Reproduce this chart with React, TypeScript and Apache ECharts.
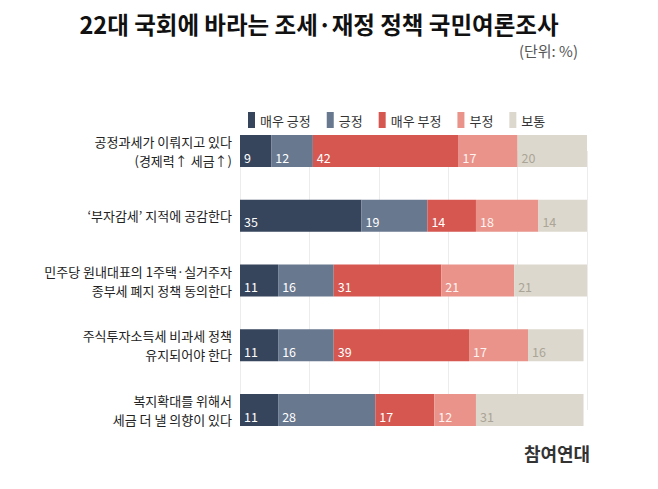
import React, { useEffect, useRef } from "react";
import * as echarts from "echarts";

const categories = [
  "공정과세가 이뤄지고 있다\n(경제력↑ 세금↑)",
  "‘부자감세’ 지적에 공감한다",
  "민주당 원내대표의 1주택·실거주자\n종부세 폐지 정책 동의한다",
  "주식투자소득세 비과세 정책\n유지되어야 한다",
  "복지확대를 위해서\n세금 더 낼 의향이 있다",
];
const seriesNames = ["매우 긍정", "긍정", "매우 부정", "부정", "보통"];
const veryPositive = [9, 35, 11, 11, 11];
const positive = [12, 19, 16, 16, 28];
const veryNegative = [42, 14, 31, 39, 17];
const negative = [17, 18, 21, 17, 12];
const neutral = [20, 14, 21, 16, 31];
const xTicks = [0, 20, 40, 60, 80, 100];

const seriesData = [veryPositive, positive, veryNegative, negative, neutral];
const colors = ["#36455c", "#68788f", "#d65650", "#e9938b", "#ddd8cd"];
const labelColors = ["#ffffff", "#ffffff", "#ffffff", "#fff3f1", "#aaa597"];
const FONT = "'Noto Sans CJK KR', 'Noto Sans', sans-serif";

export default function App() {
  const ref = useRef<HTMLDivElement>(null);
  useEffect(() => {
    document.body.style.margin = "0";
    if (!ref.current) return;
    const chart = echarts.init(ref.current, undefined, { renderer: "svg" });
    chart.setOption({
      animation: false,
      backgroundColor: "#ffffff",
      textStyle: { fontFamily: FONT },
      legend: {
        left: 243,
        top: 107,
        itemWidth: 7,
        itemHeight: 16,
        itemGap: 16,
        icon: "rect",
        textStyle: { fontSize: 13, color: "#333", fontFamily: FONT },
        data: seriesNames,
      },
      grid: { left: 240, right: 71, top: 151, bottom: 79, containLabel: false },
      xAxis: {
        type: "value",
        min: xTicks[0],
        max: xTicks[xTicks.length - 1],
        interval: 20,
        axisLabel: { show: false },
        axisLine: { show: false },
        axisTick: { show: false },
        splitLine: { show: true, lineStyle: { color: "#ececec", width: 1 } },
      },
      yAxis: {
        type: "category",
        inverse: true,
        boundaryGap: false,
        data: categories,
        axisLine: { show: false },
        axisTick: { show: false },
        splitLine: { show: false },
        axisLabel: {
          margin: 8,
          fontSize: 13,
          lineHeight: 19,
          color: "#222",
          align: "right",
          fontFamily: FONT,
        },
      },
      series: seriesNames.map((name, i) => ({
        name,
        type: "bar",
        stack: "total",
        barWidth: 32,
        data: seriesData[i],
        itemStyle: { color: colors[i] },
        label: {
          show: true,
          position: "insideLeft",
          distance: 4,
          offset: [0, 6],
          fontSize: 12.5,
          color: labelColors[i],
          fontFamily: FONT,
        },
      })),
      graphic: [
        {
          type: "text",
          x: 319,
          y: 24,
          style: {
            text: "22대 국회에 바라는 조세·재정 정책 국민여론조사",
            fontSize: 23.5,
            fontWeight: "bold",
            fill: "#111",
            fontFamily: FONT,
            textAlign: "center",
            textVerticalAlign: "middle",
          },
        },
        {
          type: "text",
          x: 578,
          y: 50,
          style: {
            text: "(단위: %)",
            fontSize: 15,
            fill: "#555",
            fontFamily: FONT,
            textAlign: "right",
            textVerticalAlign: "middle",
          },
        },
        {
          type: "text",
          x: 557,
          y: 453,
          style: {
            text: "참여연대",
            fontSize: 18,
            fontWeight: "bold",
            fill: "#333",
            fontFamily: FONT,
            textAlign: "center",
            textVerticalAlign: "middle",
          },
        },
      ],
    });
    return () => chart.dispose();
  }, []);
  return <div ref={ref} style={{ width: 658, height: 489 }} />;
}
